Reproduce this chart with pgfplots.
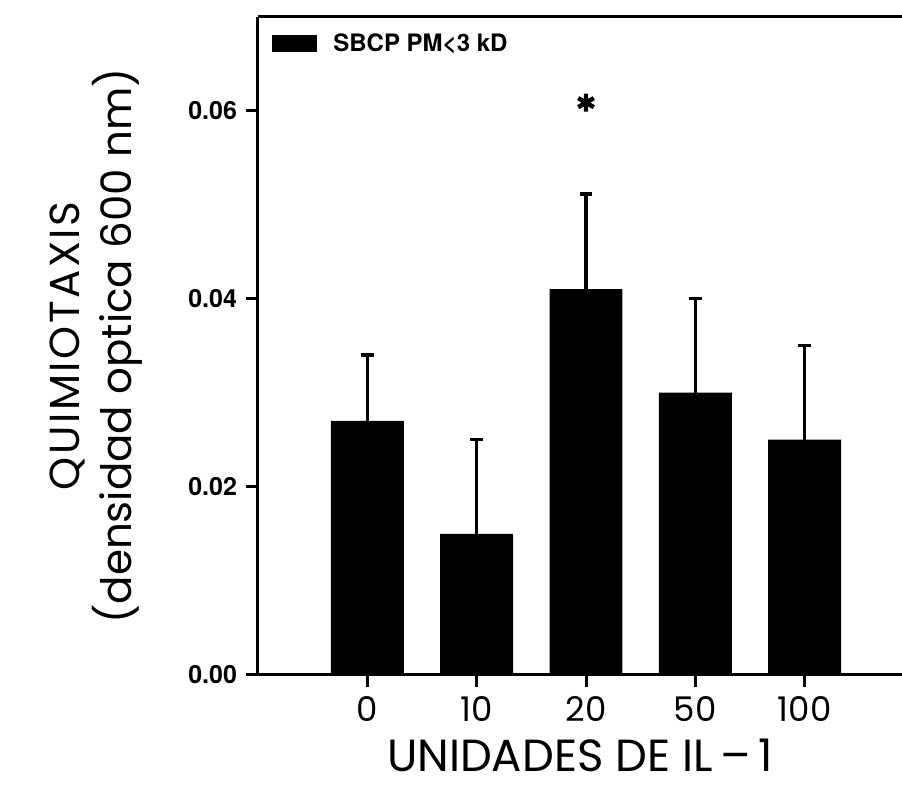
\documentclass[border=0pt]{standalone}
\usepackage{fontspec}
\usepackage{pgfplots}
\pgfplotsset{compat=1.18}
\setmainfont{TeX Gyre Heros}
\newfontfamily\lab{Poppins}
\newfontfamily\heros{TeX Gyre Heros}

\begin{document}
\begin{tikzpicture}
\begin{axis}[
  scale only axis,
  width=322pt, height=329pt,
  xmin=-1, xmax=4.89,
  ymin=0, ymax=0.0699,
  axis x line*=bottom,
  axis y line*=left,
  axis line style={-, line width=1.5pt},
  xtick={0,1,2,3,4},
  xticklabels={0,10,20,50,100},
  ytick={0,0.02,0.04,0.06},
  scaled y ticks=false,
  tick align=outside,
  major tick length=6pt,
  tick style={line width=1.5pt, black},
  /pgf/number format/assume math mode=true,
  /pgf/number format/fixed,
  /pgf/number format/fixed zerofill,
  /pgf/number format/precision=2,
  yticklabel style={font=\heros\bfseries\fontsize{12.5}{14}\selectfont, xshift=-1pt},
  xticklabel style={font=\lab\fontsize{17}{20}\selectfont, yshift=-1pt},
  xlabel={UNIDADES DE IL\,–\,1},
  xlabel style={font=\lab\fontsize{22.5}{26}\selectfont, inner sep=0pt, at={(axis description cs:0.5,0)}, anchor=center, yshift=-40pt},
  ylabel={{\addfontfeature{LetterSpace=6}QUIMIOTAXIS}\\(densidad optica 600 nm)},
  ylabel style={font=\lab\fontsize{21}{26}\selectfont, align=center, at={(axis description cs:-0.2516,0.5)}, anchor=center},
  legend style={draw=none, fill=none, at={(0,1)}, anchor=north west, xshift=4pt, yshift=-4pt,
    font=\heros\bfseries\fontsize{12}{14}\selectfont},
  legend cell align=left,
  clip=false,
]
\addplot[ybar, bar width=0.667, fill=black, draw=none,
  legend image code/.code={\fill[black] (0pt,-4.25pt) rectangle (22.5pt,4.25pt);},
  error bars/.cd, y dir=plus, y explicit,
  error bar style={line width=1.8pt, black},
  error mark options={rotate=90, mark size=3.2pt, line width=1.8pt, black},
  ] coordinates {
  (0,0.027) +- (0,0.007)
  (1,0.015) +- (0,0.010)
  (2,0.041) +- (0,0.0101)
  (3,0.030) +- (0,0.010)
  (4,0.025) +- (0,0.010)
};
\addlegendentry{\hspace{6pt}SBCP PM<3 kD}
\addplot[only marks, mark=asterisk, mark size=4.5pt, line width=2.2pt, black, forget plot]
  coordinates {(2,0.0608)};
\draw[line width=1.5pt] (rel axis cs:0,1) -- (rel axis cs:1,1);
\end{axis}
\pgfresetboundingbox
\path (-129pt,-55.5pt) rectangle (322pt,337.5pt);
\end{tikzpicture}
\end{document}
